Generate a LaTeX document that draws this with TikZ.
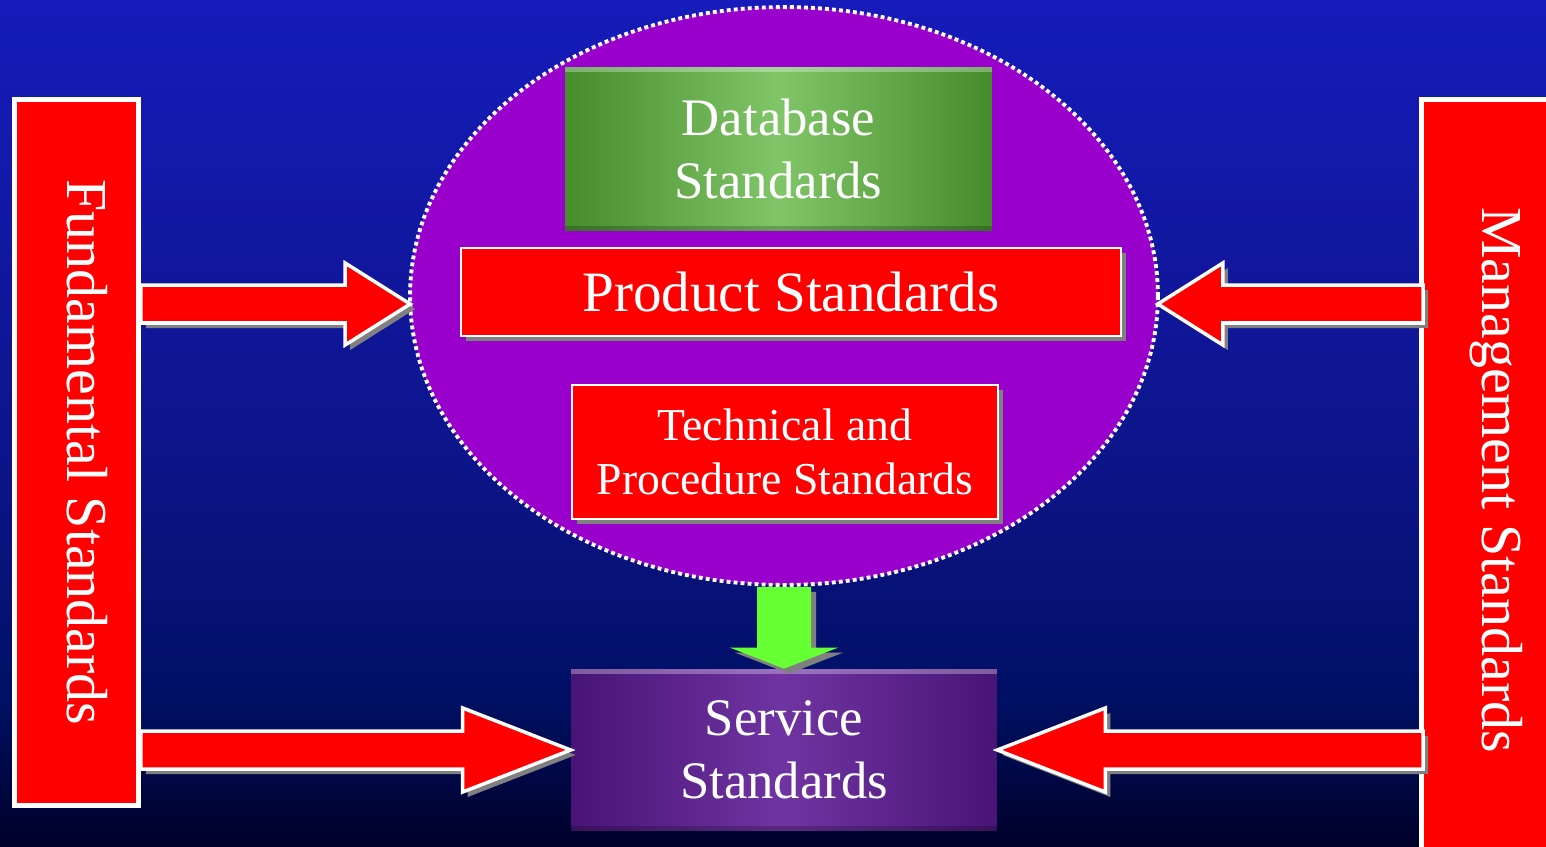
\documentclass[tikz,border=0pt]{standalone}
\usepackage{fontspec}
\setmainfont{Liberation Serif}
\usetikzlibrary{shapes.geometric,calc,shadows}

\definecolor{bgA}{RGB}{22,27,186}
\definecolor{bgB}{RGB}{20,26,176}
\definecolor{bgC}{RGB}{12,20,135}
\definecolor{bgD}{RGB}{0,16,100}
\definecolor{bgE}{RGB}{0,0,40}
\definecolor{grpviolet}{RGB}{153,0,204}
\definecolor{dbedge}{RGB}{70,140,44}
\definecolor{dbmid}{RGB}{128,198,104}
\definecolor{svedge}{RGB}{72,20,118}
\definecolor{svmid}{RGB}{112,52,162}
\definecolor{arrgreen}{RGB}{102,255,51}
\definecolor{shadowgray}{RGB}{128,128,128}

\begin{document}
\begin{tikzpicture}[>=stealth,x=0.02cm,y=-0.02cm,
    gshadow/.style={drop shadow={shadow xshift=0.1cm,shadow yshift=-0.1cm,fill=shadowgray,opacity=1,draw=none}},
    bar/.style={draw=white,line width=2.8pt,fill=red,text=white,rotate=-90,inner sep=0pt,
        text height=24pt,text depth=13.2pt,font=\fontsize{33}{40}\selectfont},
    redbox/.style={draw=white,line width=1.2pt,fill=red,text=white,inner sep=0pt,align=center,gshadow},
    bevel/.style={path picture={
        \fill[white,opacity=.3](path picture bounding box.north west)rectangle([yshift=-0.1cm]path picture bounding box.north east);
        \fill[black,opacity=.2](path picture bounding box.south west)rectangle([yshift=0.1cm]path picture bounding box.south east);}},
    blockarrow/.style n args={3}{to path={
        ($(\tikztotarget)!#3!(\tikztostart)$) coordinate (ab)
        ($(\tikztostart)!#1!90:(\tikztotarget)$) -- ($(ab)!#1!-90:(\tikztostart)$) -- ($(ab)!#2!-90:(\tikztostart)$)
        -- (\tikztotarget) -- ($(ab)!#2!90:(\tikztostart)$) -- ($(ab)!#1!90:(\tikztostart)$)
        -- ($(\tikztostart)!#1!-90:(\tikztotarget)$) -- cycle}},
    redarrow/.style={fill=red,draw=white,line width=2pt,gshadow},
    greenarrow/.style={fill=arrgreen,draw=none,gshadow}]
    \useasboundingbox(0,0)rectangle(1546,846);
    % background
    \fill[top color=bgA,bottom color=bgB](0,0)rectangle(1546,101);
    \fill[top color=bgB,bottom color=bgC](0,100)rectangle(1546,481);
    \fill[top color=bgC,bottom color=bgD](0,480)rectangle(1546,701);
    \fill[top color=bgD,bottom color=bgE](0,700)rectangle(1546,846);
    % side bars
    \node[bar,minimum width=14.12cm,minimum height=2.48cm](fund)at(76.5,452.5){Fundamental Standards};
    \node[bar,minimum width=15.22cm,minimum height=2.82cm](mgmt)at(1492,480){Management Standards};
    % the group of standards
    \node[ellipse,fill=grpviolet,draw=white,line width=2.2pt,dash pattern=on 2.2pt off 1.8pt,
        minimum width=14.96cm,minimum height=11.56cm,inner sep=0pt](group)at(784,296){};
    \coordinate(gl)at($(group.west)+(2,8)$);
    \coordinate(gr)at($(group.east)+(-2,8)$);
    \node[bevel,left color=dbedge,right color=dbedge,middle color=dbmid,text=white,align=center,
        minimum width=8.54cm,minimum height=3.28cm,font=\fontsize{30}{36}\selectfont](dbase)at(778.5,149){Database\\Standards};
    \node[redbox,minimum width=13.2cm,minimum height=1.76cm,font=\fontsize{32.5}{38}\selectfont](product)at(791,292){Product Standards};
    \node[redbox,minimum width=8.52cm,minimum height=2.68cm,font=\fontsize{26}{30.6}\selectfont](tech)at(785,452){Technical and\\Procedure Standards};
    \node[bevel,left color=svedge,right color=svedge,middle color=svmid,text=white,align=center,
        minimum width=8.52cm,minimum height=3.24cm,font=\fontsize{30}{36}\selectfont](service)at(784,750){Service\\Standards};
    % arrows
    \draw[redarrow](fund.north |- gl)to[blockarrow={0.38cm}{0.82cm}{1.3cm}](gl);
    \draw[redarrow]($(mgmt.south |- gr)+(4,0)$)to[blockarrow={0.38cm}{0.82cm}{1.3cm}](gr);
    \draw[redarrow](fund.north |- service.west)to[blockarrow={0.38cm}{0.84cm}{2.16cm}](service.west);
    \draw[redarrow]($(mgmt.south |- service.east)+(4,0)$)to[blockarrow={0.38cm}{0.84cm}{2.16cm}](service.east);
    \draw[greenarrow](group.south)to[blockarrow={0.54cm}{1.08cm}{0.42cm}](service.north);
\end{tikzpicture}
\end{document}
